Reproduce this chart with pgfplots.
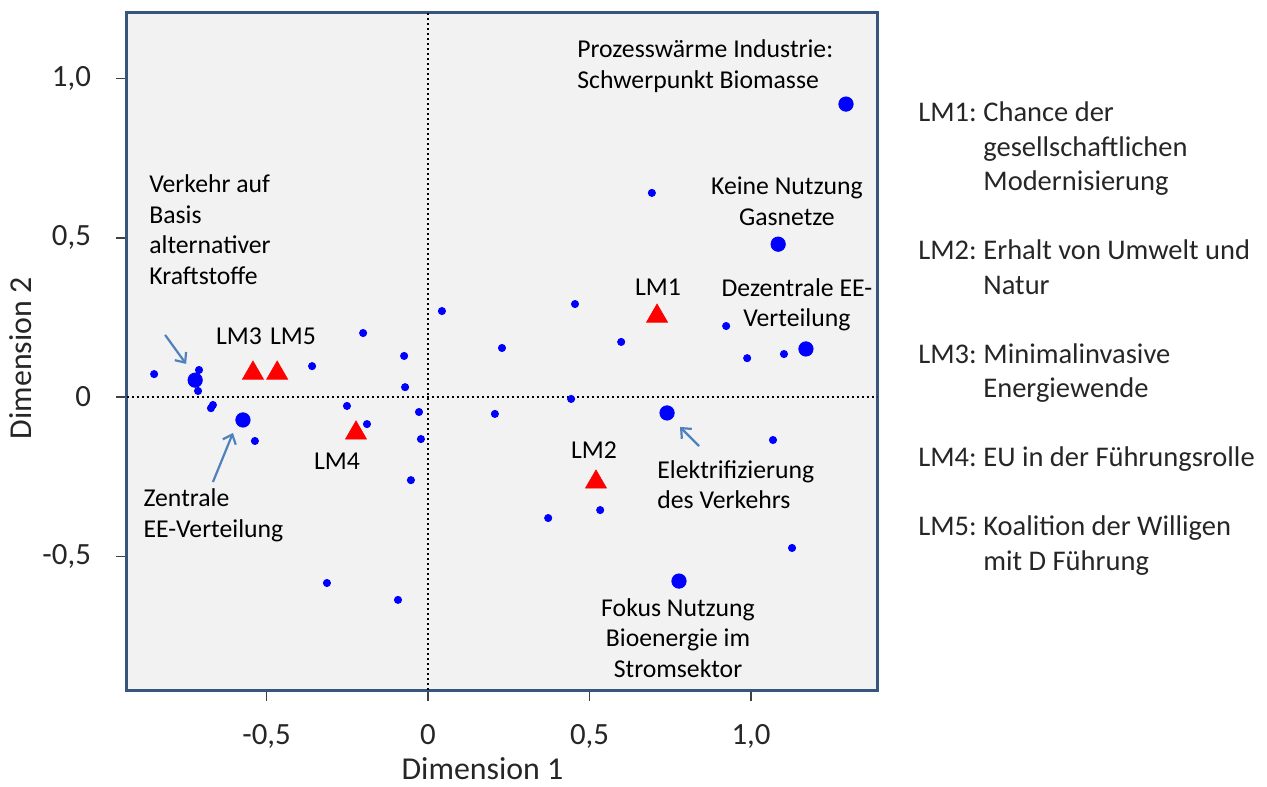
\documentclass[border=0pt]{standalone}
\usepackage{fontspec}
\setmainfont{Carlito}
\usepackage{pgfplots}
\usepackage{pgfplotstable}
\pgfplotsset{compat=1.18}
\usetikzlibrary{arrows.meta}

\definecolor{framec}{RGB}{55,85,125}
\definecolor{bgc}{RGB}{242,242,242}
\definecolor{arrowc}{RGB}{79,129,189}
\definecolor{txt}{RGB}{38,38,38}

% small points
\pgfplotstableread{
x y
-0.848 0.072
-0.709 0.085
-0.712 0.019
-0.666 -0.025
-0.672 -0.035
-0.536 -0.138
-0.359 0.097
-0.201 0.201
-0.074 0.129
-0.071 0.031
-0.251 -0.028
-0.189 -0.085
-0.028 -0.047
-0.022 -0.132
-0.053 -0.261
0.043 0.270
0.455 0.292
0.229 0.154
0.598 0.173
0.923 0.223
0.988 0.122
1.102 0.135
0.443 -0.006
0.207 -0.053
1.068 -0.135
0.533 -0.355
0.372 -0.380
0.693 0.641
-0.313 -0.584
-0.093 -0.637
1.127 -0.474
}\smallpts

% labelled points
\pgfplotstableread{
x y
-0.721 0.053
-0.573 -0.072
0.740 -0.050
1.170 0.151
1.084 0.480
1.294 0.920
0.777 -0.578
}\bigpts

% LM1..LM5
\pgfplotstableread{
x y
0.709 0.254
0.520 -0.267
-0.542 0.075
-0.467 0.075
-0.223 -0.113
}\lmpts

\begin{document}
\begin{tikzpicture}
\useasboundingbox (-63.5bp,-48.5bp) rectangle (570bp,345bp);
\begin{axis}[
    at={(0,0)}, anchor=south west,
    scale only axis, width=375bp, height=338.5bp,
    xmin=-0.932, xmax=1.390,
    ymin=-0.920, ymax=1.206,
    axis background/.style={fill=bgc},
    axis line style={draw=framec, line width=1.5bp},
    xtick={-0.5,0,0.5,1}, xticklabels={-0{,}5,0,0{,}5,1{,}0},
    ytick={-0.5,0,0.5,1}, yticklabels={-0{,}5,0,0{,}5,1{,}0},
    xtick pos=left, ytick pos=left,
    tick align=outside,
    major tick length=5.5bp,
    tick style={black!75, line width=0.7bp},
    ticklabel style={font=\fontsize{15.5}{18}\selectfont, text=txt},
    xticklabel style={yshift=-8bp},
    yticklabel style={xshift=-9bp},
    xlabel={Dimension 1}, ylabel={Dimension 2},
    label style={font=\fontsize{16}{18}\selectfont, text=txt},
    xlabel style={at={(rel axis cs:0.474,-0.1165)}, anchor=center},
    ylabel style={at={(rel axis cs:-0.1413,0.490)}, anchor=center},
    clip=false,
]
\draw[black, line width=0.6bp, dash pattern=on 1.2bp off 1.3bp]
    ({axis cs:0,0}|-{rel axis cs:0,0}) -- ({axis cs:0,0}|-{rel axis cs:0,1});
\draw[black, line width=0.6bp, dash pattern=on 1.2bp off 1.3bp]
    ({rel axis cs:0,0}|-{axis cs:0,0}) -- ({rel axis cs:1,0}|-{axis cs:0,0});

\addplot[only marks, mark=*, mark size=1.8bp, color=blue] table[x=x,y=y] {\smallpts};
\addplot[only marks, mark=*, mark size=3.6bp, color=blue] table[x=x,y=y] {\bigpts};
\addplot[only marks, mark=triangle*, mark size=6bp, color=red] table[x=x,y=y] {\lmpts};

\begin{scope}[every node/.style={font=\fontsize{12.9}{15.3}\selectfont, text=black, inner sep=0pt}]
\node[anchor=west, align=left] at (axis cs:0.461,1.039) {Prozesswärme Industrie:\\Schwerpunkt Biomasse};
\node[align=center] at (axis cs:1.111,0.615) {Keine Nutzung\\Gasnetze};
\node[align=center] at (axis cs:1.142,0.289) {Dezentrale EE-\\Verteilung};
\node at (axis cs:0.712,0.345) {LM1};
\node at (axis cs:-0.585,0.192) {LM3};
\node at (axis cs:-0.418,0.192) {LM5};
\node at (axis cs:-0.282,-0.201) {LM4};
\node at (axis cs:0.514,-0.166) {LM2};
\node[anchor=west, align=left] at (axis cs:-0.864,0.526) {Verkehr auf\\Basis\\alternativer\\Kraftstoffe};
\node[anchor=west, align=left] at (axis cs:-0.882,-0.372) {Zentrale\\EE-Verteilung};
\node[anchor=west, align=left] at (axis cs:0.709,-0.276) {Elektrifizierung\\des Verkehrs};
\node[align=center] at (axis cs:0.774,-0.757) {Fokus Nutzung\\Bioenergie im\\Stromsektor};
\end{scope}

\begin{scope}[arrowc, line width=1.1bp, -{Straight Barb[length=4bp,width=7bp]}]
\draw (axis cs:-0.814,0.195) -- (axis cs:-0.749,0.104);
\draw (axis cs:-0.666,-0.267) -- (axis cs:-0.604,-0.113);
\draw (axis cs:0.839,-0.154) -- (axis cs:0.780,-0.094);
\end{scope}
\end{axis}

\begin{scope}[every node/.style={font=\fontsize{14.3}{17}\selectfont, text=txt, inner sep=0pt, anchor=base west}]
\node at (395.5bp,284bp) {LM1:};
\node at (428bp,284bp) {Chance der};
\node at (428bp,266.75bp) {gesellschaftlichen};
\node at (428bp,249.5bp) {Modernisierung};
\node at (395.5bp,215bp) {LM2:};
\node at (428bp,215bp) {Erhalt von Umwelt und};
\node at (428bp,197.75bp) {Natur};
\node at (395.5bp,163.25bp) {LM3:};
\node at (428bp,163.25bp) {Minimalinvasive};
\node at (428bp,146bp) {Energiewende};
\node at (395.5bp,111.5bp) {LM4:};
\node at (428bp,111.5bp) {EU in der Führungsrolle};
\node at (395.5bp,77bp) {LM5:};
\node at (428bp,77bp) {Koalition der Willigen};
\node at (428bp,59.75bp) {mit D Führung};
\end{scope}
\end{tikzpicture}
\end{document}
